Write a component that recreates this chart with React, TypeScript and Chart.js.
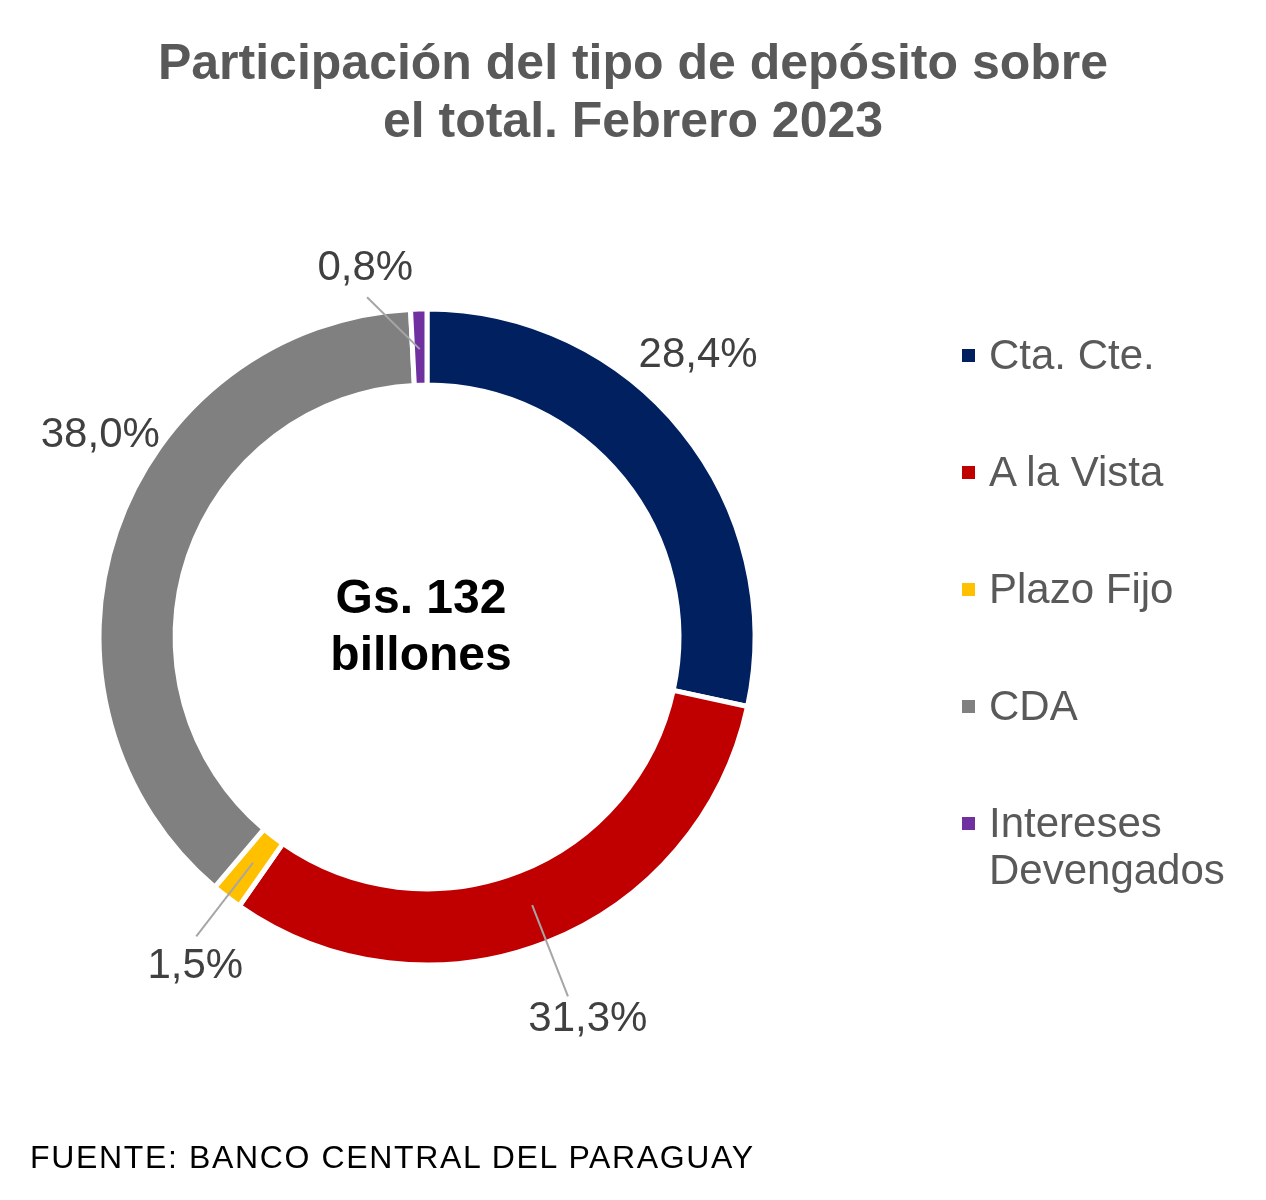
import React, { useEffect, useRef } from "react";
import { Chart, registerables } from "chart.js";

Chart.register(...registerables);

const categories = ["Cta. Cte.", "A la Vista", "Plazo Fijo", "CDA", "Intereses Devengados"];
const shares = [28.4, 31.3, 1.5, 38.0, 0.8];
const shareLabels = ["28,4%", "31,3%", "1,5%", "38,0%", "0,8%"];
const sliceColors = ["#002060", "#C00000", "#FFC000", "#808080", "#7030A0"];
const titleLines = ["Participación del tipo de depósito sobre", "el total. Febrero 2023"];
const centerLines = ["Gs. 132", "billones"];
const sourceText = "FUENTE: BANCO CENTRAL DEL PARAGUAY";

// label placement (polar, degrees clockwise from top, radius px) - layout only
const labelPlacement = [
  { deg: 43.9, r: 391, leader: false },
  { deg: 157.2, r: 415, leader: true, from: 288, to: 386 },
  { deg: 215.1, r: 403, leader: true, from: 285, to: 378 },
  { deg: 301.7, r: 384, leader: false },
  { deg: 350.5, r: 374, leader: true, from: 288, to: 345, leaderDeg: 350 },
];

const W = 1266;
const H = 1200;
const CX = 427;
const CY = 637;
const R_OUT = 328;
const R_IN = 250;

const labelPlugin = {
  id: "sliceLabels",
  afterDatasetsDraw(chart: any) {
    const meta = chart.getDatasetMeta(0);
    const ctx = chart.ctx;
    ctx.save();
    meta.data.forEach((arc: any, i: number) => {
      const p: any = labelPlacement[i];
      const cx = arc.x;
      const cy = arc.y;
      const mid = (arc.startAngle + arc.endAngle) / 2;
      if (p.leader) {
        const a0 = mid;
        const a1 = p.leaderDeg !== undefined ? (p.leaderDeg * Math.PI) / 180 - Math.PI / 2 : mid;
        ctx.strokeStyle = "#A6A6A6";
        ctx.lineWidth = 2;
        ctx.beginPath();
        ctx.moveTo(cx + Math.cos(a0) * p.from, cy + Math.sin(a0) * p.from);
        ctx.lineTo(cx + Math.cos(a1) * p.to, cy + Math.sin(a1) * p.to);
        ctx.stroke();
      }
      const a = (p.deg * Math.PI) / 180 - Math.PI / 2;
      const x = cx + Math.cos(a) * p.r;
      const y = cy + Math.sin(a) * p.r;
      ctx.fillStyle = "#404040";
      ctx.font = '42px "Liberation Sans", Arial, sans-serif';
      ctx.textAlign = "center";
      ctx.textBaseline = "middle";
      ctx.fillText(shareLabels[i], x, y);
    });
    ctx.restore();
  },
};

export default function App() {
  const ref = useRef<HTMLCanvasElement | null>(null);
  useEffect(() => {
    if (!ref.current) return;
    const chart = new Chart(ref.current, {
      type: "doughnut",
      data: {
        labels: categories,
        datasets: [
          {
            data: shares,
            backgroundColor: sliceColors,
            borderColor: "#FFFFFF",
            borderWidth: 5,
          },
        ],
      },
      options: {
        animation: false,
        responsive: false,
        maintainAspectRatio: false,
        radius: R_OUT,
        cutout: R_IN,
        rotation: 0,
        layout: {
          padding: {
            left: CX - R_OUT,
            right: W - (CX + R_OUT),
            top: CY - R_OUT,
            bottom: H - (CY + R_OUT),
          },
        },
        plugins: {
          legend: { display: false },
          title: { display: false },
          tooltip: { enabled: false },
        },
      },
      plugins: [labelPlugin],
    });
    return () => chart.destroy();
  }, []);

  const legendTop = [355, 472, 589, 706, 823];

  return (
    <div style={{ position: "absolute", left: 0, top: 0, width: W, height: H, background: "#fff", fontFamily: '"Liberation Sans", Arial, sans-serif' }}>
      <canvas ref={ref} width={W} height={H} style={{ position: "absolute", left: 0, top: 0, width: W, height: H }} />
      <div style={{ position: "absolute", left: 0, top: 33, width: 1266, textAlign: "center", color: "#595959", fontWeight: "bold", fontSize: 50, lineHeight: "58px" }}>
        {titleLines.map((t) => (
          <div key={t}>{t}</div>
        ))}
      </div>
      <div style={{ position: "absolute", left: 421 - 200, top: 568, width: 400, textAlign: "center", color: "#000", fontWeight: "bold", fontSize: 48, lineHeight: "57px" }}>
        {centerLines.map((t) => (
          <div key={t}>{t}</div>
        ))}
      </div>
      {categories.map((c, i) => {
        const words = i === 4 ? ["Intereses", "Devengados"] : [c];
        return (
          <div key={c} style={{ position: "absolute", left: 962, top: legendTop[i] - 24, color: "#595959", fontSize: 42, lineHeight: "47px" }}>
            <span style={{ position: "absolute", left: 0, top: 18, width: 13, height: 13, background: sliceColors[i] }} />
            <div style={{ marginLeft: 27, whiteSpace: "nowrap" }}>
              {words.map((w) => (
                <div key={w}>{w}</div>
              ))}
            </div>
          </div>
        );
      })}
      <div style={{ position: "absolute", left: 30, top: 1137, color: "#000", fontSize: 32, lineHeight: "40px", letterSpacing: "1.65px", whiteSpace: "nowrap", fontWeight: 400 }}>
        {sourceText}
      </div>
    </div>
  );
}
